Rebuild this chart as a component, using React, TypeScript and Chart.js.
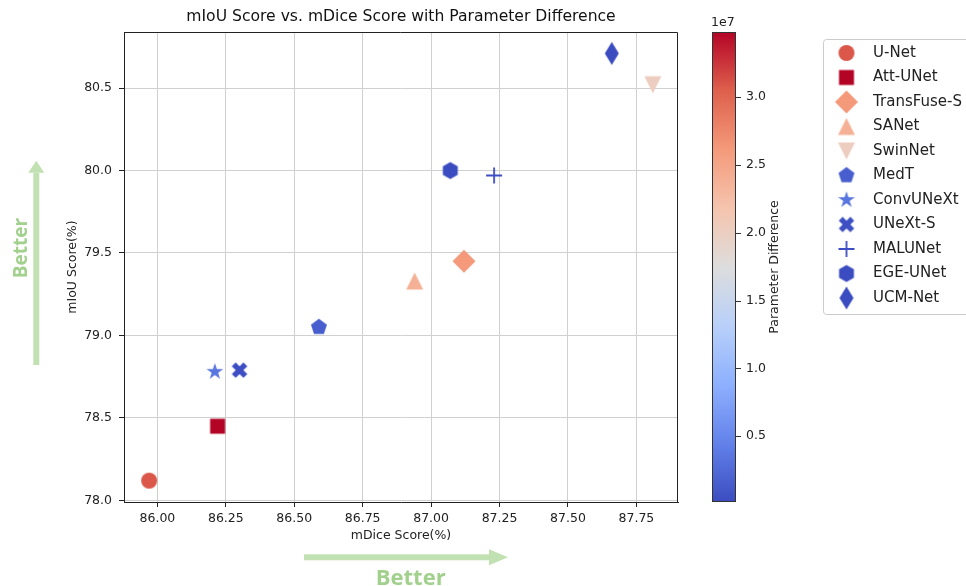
import React, { useEffect, useRef } from 'react';
import { Chart, registerables } from 'chart.js';

Chart.register(...registerables);

// ---------------- data ----------------
const models = ['U-Net', 'Att-UNet', 'TransFuse-S', 'SANet', 'SwinNet', 'MedT', 'ConvUNeXt', 'UNeXt-S', 'MALUNet', 'EGE-UNet', 'UCM-Net'];
const mDice = [85.97, 86.22, 87.12, 86.94, 87.81, 86.59, 86.21, 86.30, 87.23, 87.07, 87.66];
const mIoU = [78.12, 78.45, 79.45, 79.33, 80.52, 79.05, 78.78, 78.79, 79.97, 80.00, 80.71];
const paramDiff = [30.9e6, 34.8e6, 26.2e6, 23.8e6, 20.2e6, 1.6e6, 3.4e6, 0.42e6, 0.28e6, 0.16e6, 0.15e6];
const markerShapes = ['circle', 'square', 'diamond', 'triUp', 'triDown', 'pentagon', 'star', 'xFilled', 'plus', 'hexagon', 'thinDiamond'];
const xTicks = [86.0, 86.25, 86.5, 86.75, 87.0, 87.25, 87.5, 87.75];
const yTicks = [78.0, 78.5, 79.0, 79.5, 80.0, 80.5];
const cbTicks = [0.5e7, 1.0e7, 1.5e7, 2.0e7, 2.5e7, 3.0e7];

const titleText = 'mIoU Score vs. mDice Score with Parameter Difference';
const xTitle = 'mDice Score(%)';
const yTitle = 'mIoU Score(%)';
const cbTitle = 'Parameter Difference';
const cbExponent = '1e7';
const betterText = 'Better';

// coolwarm colormap anchors
const coolwarm = [
  [59, 76, 192], [98, 130, 234], [141, 176, 254], [184, 208, 249], [221, 221, 221],
  [245, 196, 173], [244, 154, 123], [222, 96, 77], [180, 4, 38],
];

const FONT = 'DejaVu Sans';
const PLOT_RIGHT = 678;
const PAD_RIGHT = -6;

function cmap(t: number): string {
  const n = coolwarm.length - 1;
  const p = Math.max(0, Math.min(1, t)) * n;
  const i = Math.min(Math.floor(p), n - 1);
  const f = p - i;
  const a = coolwarm[i], b = coolwarm[i + 1];
  const c = [0, 1, 2].map((k) => Math.round(a[k] + (b[k] - a[k]) * f));
  return `rgb(${c[0]},${c[1]},${c[2]})`;
}

function makeMarker(shape: string, color: string): HTMLCanvasElement {
  const S = 28;
  const c = document.createElement('canvas');
  c.width = S;
  c.height = S;
  const g = c.getContext('2d')!;
  g.translate(S / 2, S / 2);
  g.fillStyle = color;
  g.strokeStyle = color;
  const poly = (pts: number[][]) => {
    g.beginPath();
    pts.forEach(([x, y], k) => (k ? g.lineTo(x, y) : g.moveTo(x, y)));
    g.closePath();
    g.fill();
  };
  const regular = (n: number, r: number) => {
    const pts: number[][] = [];
    for (let k = 0; k < n; k++) {
      const a = -Math.PI / 2 + (k * 2 * Math.PI) / n;
      pts.push([r * Math.cos(a), r * Math.sin(a)]);
    }
    poly(pts);
  };
  switch (shape) {
    case 'circle':
      g.beginPath();
      g.arc(0, 0, 8, 0, Math.PI * 2);
      g.fill();
      break;
    case 'square':
      g.fillRect(-7.5, -7.5, 15, 15);
      break;
    case 'diamond':
      poly([[0, -11.5], [11.5, 0], [0, 11.5], [-11.5, 0]]);
      break;
    case 'triUp':
      poly([[0, -8.5], [8.5, 8.5], [-8.5, 8.5]]);
      break;
    case 'triDown':
      poly([[0, 8.5], [8.5, -8.5], [-8.5, -8.5]]);
      break;
    case 'pentagon':
      regular(5, 8.4);
      break;
    case 'hexagon':
      regular(6, 8.6);
      break;
    case 'star': {
      const pts: number[][] = [];
      for (let k = 0; k < 10; k++) {
        const r = k % 2 === 0 ? 8.8 : 8.8 * 0.382;
        const a = -Math.PI / 2 + (k * Math.PI) / 5;
        pts.push([r * Math.cos(a), r * Math.sin(a)]);
      }
      poly(pts);
      break;
    }
    case 'xFilled': {
      const s = 15.5;
      poly([[-0.25, -0.5], [0, -0.25], [0.25, -0.5], [0.5, -0.25], [0.25, 0], [0.5, 0.25], [0.25, 0.5], [0, 0.25], [-0.25, 0.5], [-0.5, 0.25], [-0.25, 0], [-0.5, -0.25]].map(([x, y]) => [x * s, y * s]));
      break;
    }
    case 'plus':
      g.lineWidth = 1.8;
      g.beginPath();
      g.moveTo(-8, 0);
      g.lineTo(8, 0);
      g.moveTo(0, -8);
      g.lineTo(0, 8);
      g.stroke();
      break;
    case 'thinDiamond':
      poly([[0, -11.5], [7, 0], [0, 11.5], [-7, 0]]);
      break;
  }
  return c;
}

export default function App() {
  const ref = useRef<HTMLCanvasElement>(null);

  useEffect(() => {
    const canvas = ref.current;
    if (!canvas) return;
    Chart.defaults.font.family = FONT;
    Chart.defaults.font.size = 12.5;
    Chart.defaults.color = '#222';

    const vmin = Math.min(...paramDiff);
    const vmax = Math.max(...paramDiff);
    const xr = Math.max(...mDice) - Math.min(...mDice);
    const yr = Math.max(...mIoU) - Math.min(...mIoU);

    const datasets = models.map((m, i) => {
      const color = cmap((paramDiff[i] - vmin) / (vmax - vmin));
      const img = makeMarker(markerShapes[i], color);
      return {
        label: m,
        data: [{ x: mDice[i], y: mIoU[i] }],
        pointStyle: img as any,
        pointRadius: 9,
        backgroundColor: color,
        borderColor: color,
      };
    });

    const decor = {
      id: 'decor',
      afterDraw(chart: any) {
        const ctx: CanvasRenderingContext2D = chart.ctx;
        const ca = chart.chartArea;
        ctx.save();
        // frame top/right
        ctx.strokeStyle = '#222';
        ctx.lineWidth = 1;
        const t = Math.round(ca.top) + 0.5;
        const r = Math.round(ca.right) - 0.5;
        ctx.beginPath();
        ctx.moveTo(ca.left, t);
        ctx.lineTo(r, t);
        ctx.lineTo(r, ca.bottom);
        ctx.stroke();

        // colorbar
        const cb = chart.scales.cb;
        const yTop = cb.getPixelForValue(vmax);
        const yBot = cb.getPixelForValue(vmin);
        const bx = Math.round(ca.right) + 34;
        const bw = 24;
        const grad = ctx.createLinearGradient(0, yBot, 0, yTop);
        coolwarm.forEach((c, i) => grad.addColorStop(i / (coolwarm.length - 1), `rgb(${c[0]},${c[1]},${c[2]})`));
        ctx.fillStyle = grad;
        ctx.fillRect(bx, yTop, bw, yBot - yTop);
        ctx.strokeStyle = '#333';
        ctx.strokeRect(bx + 0.5, Math.round(yTop) + 0.5, bw - 1, Math.round(yBot - yTop) - 1);
        ctx.beginPath();
        cbTicks.forEach((v) => {
          const y = Math.round(cb.getPixelForValue(v)) + 0.5;
          ctx.moveTo(bx + bw, y);
          ctx.lineTo(bx + bw + 5, y);
        });
        ctx.stroke();
        ctx.fillStyle = '#222';
        ctx.font = `12.5px "${FONT}"`;
        ctx.textAlign = 'left';
        ctx.textBaseline = 'middle';
        ctx.fillText(cbExponent, bx - 1, yTop - 9);
        ctx.save();
        ctx.translate(ca.right + 97, (ca.top + ca.bottom) / 2);
        ctx.rotate(-Math.PI / 2);
        ctx.textAlign = 'center';
        ctx.fillText(cbTitle, 0, 0);
        ctx.restore();

        // legend frame
        const lg = chart.legend;
        if (lg) {
          ctx.strokeStyle = '#cccccc';
          ctx.lineWidth = 1;
          ctx.beginPath();
          (ctx as any).roundRect(Math.round(lg.left) + 5.5, 39.5, 200, 275, 3);
          ctx.stroke();
        }

        // "Better" arrows
        const arrowCol = '#c2e1b3';
        const textCol = '#a2d08d';
        ctx.fillStyle = arrowCol;
        ctx.fillRect(33.3, 172.7, 6, 365 - 172.7);
        ctx.beginPath();
        ctx.moveTo(28.3, 172.7);
        ctx.lineTo(44.3, 172.7);
        ctx.lineTo(36.3, 160.7);
        ctx.closePath();
        ctx.fill();
        ctx.fillRect(304, 554.3, 489 - 304, 6);
        ctx.beginPath();
        ctx.moveTo(489, 549.3);
        ctx.lineTo(489, 565.3);
        ctx.lineTo(508, 557.3);
        ctx.closePath();
        ctx.fill();

        ctx.fillStyle = textCol;
        ctx.textAlign = 'center';
        ctx.textBaseline = 'alphabetic';
        ctx.font = 'bold 22px "Open Sans"';
        ctx.fillText(betterText, 410.7, 585);
        ctx.save();
        ctx.translate(26.5, 248);
        ctx.rotate(-Math.PI / 2);
        ctx.font = 'bold 19px "Open Sans"';
        ctx.fillText(betterText, 0, 0);
        ctx.restore();

        ctx.restore();
      },
    };

    const chart = new Chart(canvas, {
      type: 'scatter',
      data: { datasets },
      options: {
        responsive: false,
        animation: false,
        events: [],
        devicePixelRatio: 1,
        layout: { padding: { left: 0, top: 0, bottom: 0, right: PAD_RIGHT } },
        plugins: {
          tooltip: { enabled: false },
          title: {
            display: true,
            text: titleText,
            fullSize: false,
            font: { family: FONT, size: 15.6, weight: 'normal' },
            color: '#111',
            padding: { top: 8, bottom: 5.3 },
          },
          legend: {
            display: true,
            position: 'right',
            align: 'start',
            title: { display: true, text: '', font: { size: 10 }, padding: { top: 12, bottom: 12 } },
            labels: {
              usePointStyle: true,
              pointStyleWidth: 38.2,
              padding: 9.5,
              font: { family: FONT, size: 15 },
              color: '#222',
            },
          },
        },
        scales: {
          x: {
            type: 'linear',
            position: 'bottom',
            min: Math.min(...mDice) - 0.05 * xr,
            max: Math.max(...mDice) + 0.05 * xr,
            afterBuildTicks: (s: any) => {
              s.ticks = xTicks.map((v) => ({ value: v }));
            },
            afterFit: (s: any) => {
              s.height = 84;
            },
            ticks: { padding: 4, color: '#222', font: { size: 12.5 }, callback: (v: any) => Number(v).toFixed(2), maxRotation: 0 },
            grid: { color: '#d0d0d0', lineWidth: 1, tickLength: 5, tickColor: '#222' },
            border: { display: true, color: '#222', width: 1 },
            title: { display: true, text: xTitle, color: '#222', font: { size: 12.5 }, padding: { top: 0, bottom: 42.5 } },
          },
          y: {
            type: 'linear',
            position: 'left',
            min: Math.min(...mIoU) - 0.05 * yr,
            max: Math.max(...mIoU) + 0.05 * yr,
            afterBuildTicks: (s: any) => {
              s.ticks = yTicks.map((v) => ({ value: v }));
            },
            afterFit: (s: any) => {
              s.width = 124;
            },
            ticks: { padding: 7, color: '#222', font: { size: 12.5 }, callback: (v: any) => Number(v).toFixed(1) },
            grid: { color: '#d0d0d0', lineWidth: 1, tickLength: 5, tickColor: '#222' },
            border: { display: true, color: '#222', width: 1 },
            title: { display: true, text: yTitle, color: '#222', font: { size: 12.5 }, padding: { top: 65.5, bottom: 0 } },
          },
          cb: {
            type: 'linear',
            position: 'right',
            min: vmin,
            max: vmax,
            afterBuildTicks: (s: any) => {
              s.ticks = cbTicks.map((v) => ({ value: v }));
            },
            afterFit: (s: any) => {
              const lw = s.chart.legend ? s.chart.legend.width : 157;
              s.width = Math.max(10, s.chart.width - PAD_RIGHT - lw - PLOT_RIGHT);
            },
            ticks: { padding: 4, color: '#222', font: { size: 12.5 }, callback: (v: any) => (Number(v) / 1e7).toFixed(1) },
            grid: { display: true, drawOnChartArea: false, drawTicks: true, tickLength: 64, tickColor: 'rgba(0,0,0,0)', color: 'rgba(0,0,0,0)' },
            border: { display: false },
          },
        },
      },
      plugins: [decor],
    } as any);

    return () => chart.destroy();
  }, []);

  return (
    <div style={{ position: 'fixed', left: 0, top: 0, width: 966, height: 586, background: '#fff', overflow: 'hidden' }}>
      <canvas ref={ref} width={966} height={586} style={{ display: 'block', width: 966, height: 586 }} />
    </div>
  );
}
